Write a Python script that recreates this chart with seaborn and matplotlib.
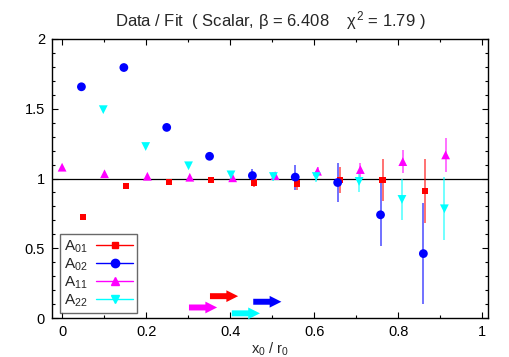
import numpy as np
import pandas as pd
import seaborn as sns
import matplotlib.pyplot as plt
from matplotlib.lines import Line2D
from matplotlib.ticker import MultipleLocator, FormatStrFormatter

# Data / Fit ratios for the four correlators
x_a01 = [0.050, 0.152, 0.254, 0.355, 0.457, 0.559, 0.662, 0.763, 0.864]
y_a01 = [0.725, 0.945, 0.976, 0.988, 0.971, 0.966, 0.990, 0.990, 0.909]
e_a01 = [0.005, 0.008, 0.010, 0.020, 0.030, 0.050, 0.095, 0.150, 0.230]

x_a02 = [0.046, 0.147, 0.249, 0.351, 0.453, 0.555, 0.656, 0.758, 0.860]
y_a02 = [1.657, 1.795, 1.366, 1.159, 1.021, 1.010, 0.971, 0.740, 0.462]
e_a02 = [0.005, 0.008, 0.010, 0.030, 0.050, 0.090, 0.140, 0.226, 0.364]

x_a11 = [0.000, 0.101, 0.203, 0.304, 0.406, 0.507, 0.608, 0.710, 0.811, 0.913]
y_a11 = [1.081, 1.034, 1.016, 1.009, 1.005, 1.021, 1.052, 1.064, 1.121, 1.169]
e_a11 = [0.004, 0.005, 0.006, 0.008, 0.010, 0.020, 0.030, 0.050, 0.080, 0.120]

x_a22 = [0.098, 0.199, 0.301, 0.402, 0.503, 0.605, 0.707, 0.809, 0.910]
y_a22 = [1.493, 1.229, 1.091, 1.026, 1.014, 1.014, 0.979, 0.850, 0.783]
e_a22 = [0.006, 0.008, 0.010, 0.015, 0.030, 0.040, 0.075, 0.150, 0.225]

names = ["A01", "A02", "A11", "A22"]
labels = [r"A$_{01}$", r"A$_{02}$", r"A$_{11}$", r"A$_{22}$"]
colors = ["#ff0000", "#0000ff", "#ff00ff", "#00ffff"]
markers = ["s", "o", "^", "v"]
msizes = [22, 40, 40, 40]

# fit range arrows (start of fit window, height on plot)
fit_start = [0.352, 0.455, 0.302, 0.404]
arrow_y = [0.157, 0.117, 0.076, 0.034]
arrow_len = 0.067

series = {
    "A01": (x_a01, y_a01, e_a01),
    "A02": (x_a02, y_a02, e_a02),
    "A11": (x_a11, y_a11, e_a11),
    "A22": (x_a22, y_a22, e_a22),
}

frames = []
for name in names:
    xs, ys, es = series[name]
    frames.append(pd.DataFrame({"x": xs, "y": ys, "err": es, "corr": name}))
df = pd.concat(frames, ignore_index=True)

sns.set_theme(style="ticks")
plt.rcParams["font.family"] = ["Liberation Sans", "DejaVu Sans"]
plt.rcParams["mathtext.fontset"] = "custom"
plt.rcParams["mathtext.rm"] = "Liberation Sans"
plt.rcParams["mathtext.it"] = "Liberation Sans"

fig = plt.figure(figsize=(5.1, 3.57), dpi=100)
ax = fig.add_axes([0.102, 0.109, 0.855, 0.782])

ax.axhline(1.0, color="black", lw=0.9, zorder=1)

# error bars first, then markers via seaborn
for name, c in zip(names, colors):
    sub = df[df["corr"] == name]
    ax.errorbar(sub["x"], sub["y"], yerr=sub["err"], fmt="none",
                ecolor=c, elinewidth=1.2, alpha=0.65, capsize=0, zorder=2)

for name, c, m, s in zip(names, colors, markers, msizes):
    sub = df[df["corr"] == name]
    sns.scatterplot(data=sub, x="x", y="y", color=c, marker=m, s=s,
                    edgecolor="none", ax=ax, zorder=3, legend=False)

for start, y, c in zip(fit_start, arrow_y, colors):
    ax.annotate("", xy=(start + arrow_len, y), xytext=(start, y),
                arrowprops=dict(arrowstyle="simple,head_length=0.65,head_width=0.65,tail_width=0.33",
                                color=c, mutation_scale=13, lw=0,
                                shrinkA=0, shrinkB=0))

ax.set_xlim(-0.024, 1.014)
ax.set_ylim(0, 2)
ax.xaxis.set_major_locator(MultipleLocator(0.2))
ax.xaxis.set_minor_locator(MultipleLocator(0.1))
ax.yaxis.set_major_locator(MultipleLocator(0.5))
ax.yaxis.set_minor_locator(MultipleLocator(0.1))
ax.xaxis.set_major_formatter(FormatStrFormatter("%g"))
ax.yaxis.set_major_formatter(FormatStrFormatter("%g"))
ax.tick_params(which="both", direction="in", top=True, right=True,
               labelsize=10.5, colors="black", width=0.8)
ax.tick_params(which="major", length=4.5, pad=5)
ax.tick_params(which="minor", length=2.5)
for sp in ax.spines.values():
    sp.set_color("black")
    sp.set_linewidth(1.0)
    sp.set_visible(True)

ax.set_xlabel(r"x$_0$ / r$_0$", fontsize=10.5, labelpad=1)
ax.set_ylabel("")
ax.set_title(r"Data / Fit  ( Scalar, $\beta$ = 6.408    $\chi^2$ = 1.79 )",
             fontsize=12, pad=9)

handles = [Line2D([0], [0], color=c, marker=m, markersize=ms, lw=1.0)
           for c, m, ms in zip(colors, markers, [4.5, 6, 6, 6])]
leg = ax.legend(handles, labels, loc="lower left", bbox_to_anchor=(0.018, 0.018),
                borderaxespad=0, markerfirst=False, fancybox=False, fontsize=11,
                handlelength=2.4, labelspacing=0.12, borderpad=0.25, handletextpad=0.6)
leg.get_frame().set_edgecolor("#444444")
leg.get_frame().set_linewidth(1.0)

fig.savefig("out.png", dpi=100)
